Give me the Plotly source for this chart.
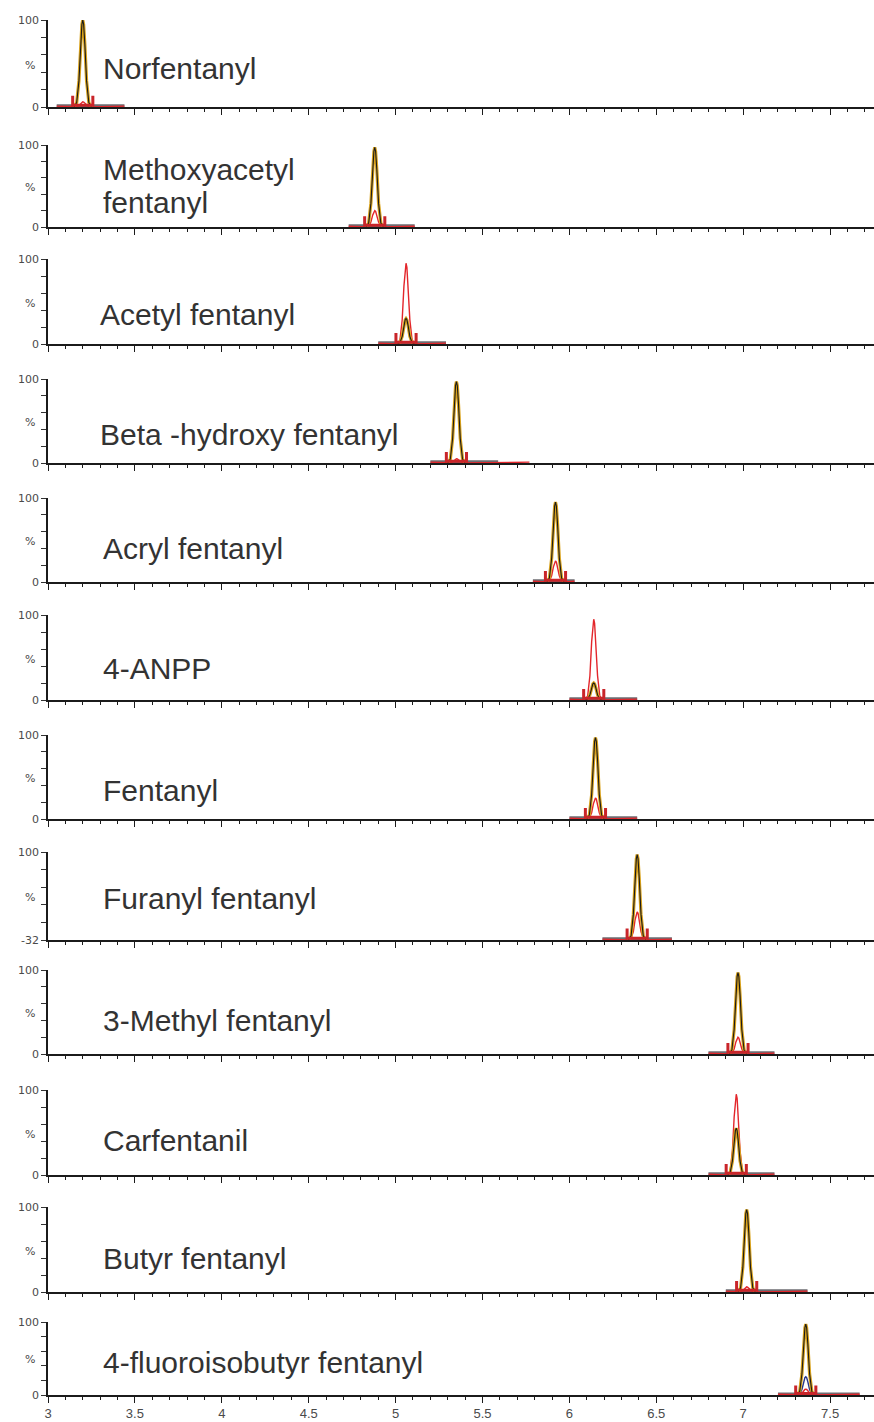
import plotly.graph_objects as go

# ---------------- data ----------------
label_lines = [
    ["Norfentanyl"],
    ["Methoxyacetyl", "fentanyl"],
    ["Acetyl fentanyl"],
    ["Beta -hydroxy fentanyl"],
    ["Acryl fentanyl"],
    ["4-ANPP"],
    ["Fentanyl"],
    ["Furanyl fentanyl"],
    ["3-Methyl fentanyl"],
    ["Carfentanil"],
    ["Butyr fentanyl"],
    ["4-fluoroisobutyr fentanyl"],
]
retention_min = [3.20, 4.88, 5.06, 5.35, 5.92, 6.14, 6.15, 6.39, 6.97, 6.96, 7.02, 7.36]
quant_pct = [100, 97, 30, 97, 95, 20, 97, 97, 97, 55, 97, 97]     # black / gold trace
qual_pct = [6, 20, 95, 5, 25, 95, 25, 32, 20, 95, 6, 8]           # red trace
blue_pct = [0, 0, 0, 0, 0, 0, 0, 0, 0, 0, 0, 25]                  # blue trace
window_start = [3.05, 4.73, 4.90, 5.20, 5.79, 6.00, 6.00, 6.19, 6.80, 6.80, 6.90, 7.20]
window_end = [3.44, 5.11, 5.29, 5.59, 6.03, 6.39, 6.39, 6.59, 7.18, 7.18, 7.37, 7.67]
red_end = [3.44, 5.11, 5.29, 5.77, 6.03, 6.39, 6.39, 6.59, 7.18, 7.18, 7.37, 7.67]
axis_min = [0, 0, 0, 0, 0, 0, 0, -32, 0, 0, 0, 0]
axis_min_label = ["0", "0", "0", "0", "0", "0", "0", "-32", "0", "0", "0", "0"]

# peak profile (offset from apex in min, relative height)
peak_dx = [-0.05, -0.035, -0.022, -0.012, -0.005, 0.0, 0.005, 0.012, 0.022, 0.035, 0.05]
peak_rel = [0.0, 0.05, 0.30, 0.72, 0.95, 1.0, 0.95, 0.72, 0.30, 0.05, 0.0]
marker_half = 0.058

x_tick_vals = [3, 3.5, 4, 4.5, 5, 5.5, 6, 6.5, 7, 7.5]
x_tick_text = ["3", "3.5", "4", "4.5", "5", "5.5", "6", "6.5", "7", "7.5"]

# ---------------- layout (pixel geometry) ----------------
W, H = 874, 1422
L = 48
panel_top_px = [20, 145, 259, 379, 498, 615, 735, 852, 970, 1090, 1207, 1322]
panel_bot_px = [107, 227, 344, 463, 582, 700, 819, 940, 1054, 1175, 1292, 1395]
label_center_px = [68, 186, 315, 435, 548, 668, 790, 898, 1020, 1140, 1258, 1362]
label_left_px = [101, 101, 98, 98, 101, 101, 101, 101, 101, 101, 101, 101]
x_max = 3 + (W - L) / 173.8

FONT = "Liberation Sans, Arial, sans-serif"
TICK_FONT = "DejaVu Sans, Verdana, sans-serif"
BLACK = "#1b1b1b"
GOLD = "#d9a21c"
RED = "#e3262b"
RED_MARK = "#c9252a"
GREY = "#6c6c72"
BLUE = "#27358a"
TICK_COL = "#4a4a4a"

fig = go.Figure()
layout = dict(
    template="none",
    width=W, height=H,
    margin=dict(l=L, r=0, t=0, b=0, pad=0, autoexpand=False),
    paper_bgcolor="white", plot_bgcolor="white",
    showlegend=False,
    font=dict(family=FONT, color=TICK_COL),
    annotations=[],
)


def scale(i, pct):
    b = axis_min[i]
    return b + pct * (100 - b) / 100.0


for i in range(12):
    n = i + 1
    xa = "x" if n == 1 else f"x{n}"
    ya = "y" if n == 1 else f"y{n}"
    b = axis_min[i]
    rt = retention_min[i]
    px = [rt + d for d in peak_dx]

    # grey baseline
    fig.add_trace(go.Scatter(x=[window_start[i], window_end[i]], y=[scale(i, 1.5)] * 2,
                             mode="lines", line=dict(color=GREY, width=3),
                             xaxis=xa, yaxis=ya, hoverinfo="skip"))
    # red trace
    fig.add_trace(go.Scatter(x=[window_start[i]] + px + [red_end[i]],
                             y=[scale(i, 1)] + [scale(i, qual_pct[i] * r) for r in peak_rel] + [scale(i, 1)],
                             mode="lines", line=dict(color=RED, width=1.4),
                             xaxis=xa, yaxis=ya, hoverinfo="skip"))
    # blue trace
    if blue_pct[i] > 0:
        fig.add_trace(go.Scatter(x=px, y=[scale(i, blue_pct[i] * r) for r in peak_rel],
                                 mode="lines", line=dict(color=BLUE, width=1.4),
                                 xaxis=xa, yaxis=ya, hoverinfo="skip"))
    # quant trace: gold under black
    fig.add_trace(go.Scatter(x=px, y=[scale(i, quant_pct[i] * r) for r in peak_rel],
                             mode="lines", line=dict(color=GOLD, width=3.2),
                             xaxis=xa, yaxis=ya, hoverinfo="skip"))
    fig.add_trace(go.Scatter(x=px, y=[scale(i, quant_pct[i] * r) for r in peak_rel],
                             mode="lines", line=dict(color=BLACK, width=1.1),
                             xaxis=xa, yaxis=ya, hoverinfo="skip"))
    # red integration markers
    fig.add_trace(go.Scatter(x=[rt - marker_half, rt - marker_half, rt + marker_half, rt + marker_half],
                             y=[scale(i, 13), scale(i, 2), scale(i, 2), scale(i, 13)],
                             mode="lines", line=dict(color=RED_MARK, width=3),
                             xaxis=xa, yaxis=ya, hoverinfo="skip"))

    y0 = 1 - panel_bot_px[i] / H
    y1 = 1 - panel_top_px[i] / H
    last = (i == 11)
    layout["xaxis" if n == 1 else f"xaxis{n}"] = dict(
        domain=[0, 1], anchor=ya, range=[3, x_max], automargin=False,
        tickmode="array", tickvals=x_tick_vals, ticktext=x_tick_text,
        showticklabels=last, ticks="outside", ticklen=6, tickwidth=1, tickcolor=BLACK,
        minor=dict(dtick=0.1, tick0=3, ticks="outside", ticklen=3, tickcolor=BLACK, tickwidth=1),
        showline=True, linecolor=BLACK, linewidth=1.6,
        showgrid=False, zeroline=False,
        tickfont=dict(family=FONT, size=13, color=TICK_COL),
    )
    if b == 0:
        tv = [0, 20, 40, 60, 80, 100]
    else:
        tv = [b, b + 26.4, b + 52.8, b + 79.2, b + 105.6, 100]
    tt = [axis_min_label[i], "", "", "", "", "100"]
    layout["yaxis" if n == 1 else f"yaxis{n}"] = dict(
        domain=[y0, y1], anchor=xa, range=[b, 100], automargin=False,
        tickmode="array", tickvals=tv, ticktext=tt,
        ticks="outside", ticklen=5, tickwidth=1, tickcolor="#333",
        showline=True, linecolor=BLACK, linewidth=1.6,
        showgrid=False, zeroline=False,
        tickfont=dict(family=TICK_FONT, size=11, color=TICK_COL),
    )
    # "%" label
    layout["annotations"].append(dict(
        xref="paper", yref="paper", x=(30 - L) / (W - L),
        y=1 - (panel_top_px[i] + 0.52 * (panel_bot_px[i] - panel_top_px[i])) / H,
        text="%", showarrow=False, xanchor="center", yanchor="middle",
        font=dict(family=TICK_FONT, size=11, color=TICK_COL)))
    # compound name
    lines = label_lines[i]
    nlines = len(lines)
    for k, t in enumerate(lines):
        cy = label_center_px[i] + (k - (nlines - 1) / 2) * 33
        layout["annotations"].append(dict(
            xref="paper", yref="paper", x=(label_left_px[i] - L) / (W - L), y=1 - cy / H,
            text=t, showarrow=False, xanchor="left", yanchor="middle",
            font=dict(family=FONT, size=30, color="#333")))

fig.update_layout(**layout)
fig.write_html(
    "out.html",
    config={"displayModeBar": False},
    post_script="document.body.style.margin='0';document.body.style.padding='0';"
                "document.documentElement.style.overflow='hidden';",
)
